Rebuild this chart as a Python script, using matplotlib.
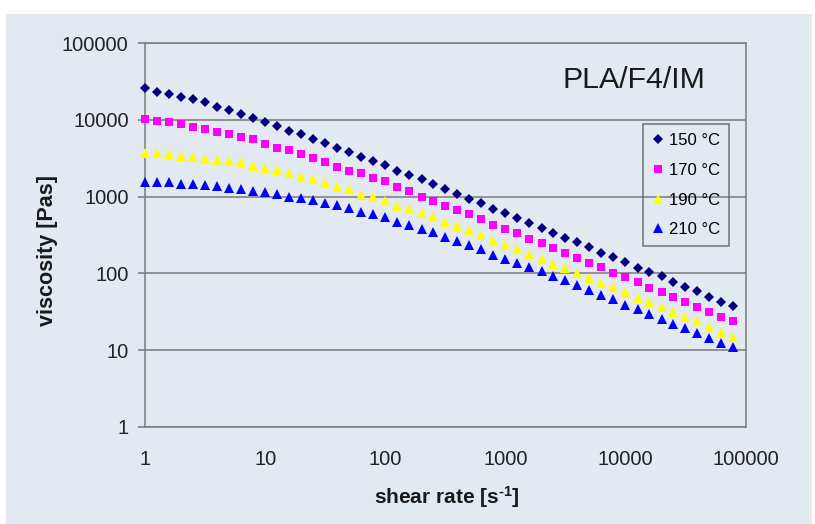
import matplotlib
matplotlib.use("Agg")
import matplotlib.pyplot as plt
from matplotlib.patches import Rectangle

plt.rcParams['font.family'] = ['Liberation Sans', 'DejaVu Sans']
plt.rcParams['mathtext.fontset'] = 'custom'
plt.rcParams['mathtext.rm'] = 'Liberation Sans:bold'
plt.rcParams['mathtext.bf'] = 'Liberation Sans:bold'
plt.rcParams['mathtext.default'] = 'bf'

# shear rate [1/s], 10 points per decade
shear_rate = [1, 1.26, 1.58, 2.0, 2.51, 3.16, 3.98, 5.01, 6.31, 7.94,
              10, 12.6, 15.8, 20.0, 25.1, 31.6, 39.8, 50.1, 63.1, 79.4,
              100, 126, 158, 200, 251, 316, 398, 501, 631, 794,
              1000, 1260, 1580, 2000, 2510, 3160, 3980, 5010, 6310, 7940,
              10000, 12600, 15800, 20000, 25100, 31600, 39800, 50100, 63100, 79400]

visc_150 = [25900, 23400, 21800, 20100, 18600, 17000, 14900, 13500, 11900, 10700,
            9330, 8360, 7260, 6500, 5600, 4970, 4360, 3790, 3300, 2940,
            2590, 2160, 1900, 1690, 1450, 1250, 1070, 925, 820, 685,
            608, 522, 450, 387, 340, 287, 254, 219, 186, 162,
            142, 119, 105, 92.5, 78.0, 67.1, 58.9, 49.7, 42.8, 37.6]

visc_170 = [10200, 9800, 9510, 8790, 8040, 7570, 6920, 6560, 6050, 5600,
            4820, 4360, 4030, 3610, 3230, 2860, 2460, 2180, 2020, 1770,
            1600, 1350, 1190, 1000, 887, 760, 671, 594, 512, 428,
            379, 333, 278, 247, 216, 186, 157, 138, 120, 102,
            88.9, 78.0, 64.0, 57.8, 49.7, 42.8, 36.8, 31.7, 27.3, 23.9]

visc_190 = [3750, 3750, 3610, 3400, 3270, 3100, 3010, 2920, 2810, 2510,
            2390, 2230, 2040, 1820, 1690, 1520, 1350, 1260, 1050, 982,
            887, 764, 692, 608, 548, 472, 415, 368, 317, 267,
            234, 206, 177, 154, 131, 116, 102, 86.3, 74.1, 65.9,
            57.8, 48.2, 42.8, 36.1, 31.7, 27.3, 23.9, 20.2, 17.4, 15.0]

visc_210 = [1540, 1570, 1540, 1470, 1470, 1420, 1380, 1310, 1250, 1200,
            1140, 1080, 1000, 953, 906, 836, 780, 706, 637, 589,
            548, 472, 428, 379, 350, 299, 264, 234, 206, 174,
            153, 136, 120, 107, 92.5, 82.0, 70.6, 60.8, 52.2, 46.3,
            38.7, 34.0, 29.6, 25.4, 21.9, 19.2, 16.6, 14.3, 12.5, 10.9]

series_labels = ['150 °C', '170 °C', '190 °C', '210 °C']
tick_values = [1, 10, 100, 1000, 10000, 100000]
tick_labels = ['1', '10', '100', '1000', '10000', '100000']
title_text = 'PLA/F4/IM'

W, H = 815, 524
fig = plt.figure(figsize=(W / 100, H / 100), dpi=100)
fig.patch.set_facecolor('white')
# light panel behind chart
fig.add_artist(Rectangle((6 / W, 0), (812 - 6) / W, 1 - 14 / H,
                         transform=fig.transFigure, facecolor='#E3E9F0',
                         edgecolor='none', zorder=0))

ax = fig.add_axes([145.3 / W, 1 - 426.7 / H, (745.5 - 145.3) / W, (426.7 - 43.3) / H])
ax.set_facecolor('none')
ax.set_xscale('log')
ax.set_yscale('log')
ax.set_xlim(1, 100000)
ax.set_ylim(1, 100000)

gc = '#7a7a7a'
ax.yaxis.grid(True, which='major', color=gc, linewidth=1.1)
ax.set_axisbelow(True)
for s in ax.spines.values():
    s.set_color(gc)
    s.set_linewidth(1.1)

styles = [
    (visc_150, 'D', '#000080', 5.5),
    (visc_170, 's', '#FF00FF', 6.4),
    (visc_190, '^', '#FFFF00', 7.6),
    (visc_210, '^', '#0000FF', 7.6),
]
for (vals, m, c, ms), lab in zip(styles, series_labels):
    ax.plot(shear_rate, vals, linestyle='none', marker=m, color=c,
            markersize=ms, markeredgewidth=0, label=lab, clip_on=False, zorder=3)

ax.set_xticks(tick_values)
ax.set_xticklabels(tick_labels)
ax.set_yticks(tick_values)
ax.set_yticklabels(tick_labels)
ax.minorticks_off()
ax.tick_params(axis='x', length=0, pad=17, labelsize=14.5, labelcolor='#222222')
ax.tick_params(axis='y', length=5, width=1.1, color=gc, pad=7, labelsize=14.5, labelcolor='#222222')

fig.text(447 / W, 1 - 497 / H, r'shear rate [s$^{\text{-1}}$]', ha='center', va='center',
         fontsize=15, fontweight='bold', color='#1a1a1a')
fig.text(47.5 / W, 1 - 250 / H, 'viscosity [Pas]', ha='center', va='center',
         rotation=90, fontsize=15.5, fontweight='bold', color='#1a1a1a')
fig.text(633.5 / W, 1 - 79.5 / H, title_text, ha='center', va='center',
         fontsize=21.8, color='#1a1a1a')

leg = ax.legend(loc='upper left', bbox_to_anchor=(642.7 / W, 1 - 124 / H),
                bbox_transform=fig.transFigure, borderaxespad=0, fontsize=12,
                frameon=True, fancybox=False, labelspacing=0.88,
                handlelength=0.7, handletextpad=0.3, borderpad=0.55, numpoints=1)
leg.get_frame().set_edgecolor('#555555')
leg.get_frame().set_facecolor('none')
leg.get_frame().set_linewidth(1.1)

fig.savefig('out.png', dpi=100)
